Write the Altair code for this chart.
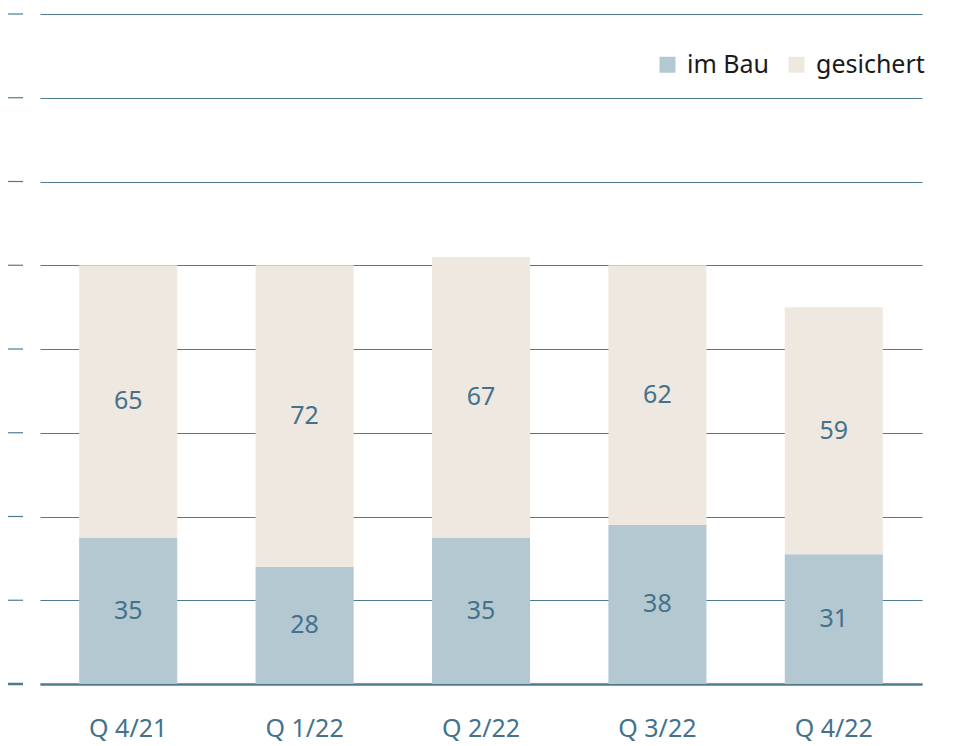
import altair as alt
import pandas as pd

quarters = ["Q 4/21", "Q 1/22", "Q 2/22", "Q 3/22", "Q 4/22"]
im_bau = [35, 28, 35, 38, 31]
gesichert = [65, 72, 67, 62, 59]
series = ["im Bau", "gesichert"]
tick_values = [0, 20, 40, 60, 80, 100, 120, 140, 160]

rows = []
for q, a, b in zip(quarters, im_bau, gesichert):
    rows.append({"quarter": q, "series": series[0], "value": a, "ord": 0})
    rows.append({"quarter": q, "series": series[1], "value": b, "ord": 1})
df = pd.DataFrame(rows)
ticks_df = pd.DataFrame({"v": tick_values, "w": [2.5 if v == 0 else 1.2 for v in tick_values]})

FONT = "Noto Sans"
BLUE_TXT = "#44728b"
GRID = "#4f7b92"

x_enc = alt.X("quarter:N", sort=quarters,
              scale=alt.Scale(paddingInner=0.444, paddingOuter=0.222),
              axis=alt.Axis(title=None, ticks=False, labelAngle=0, labelFont=FONT,
                            labelFontSize=25, labelColor=BLUE_TXT, labelPadding=32,
                            domain=True, domainColor=GRID, domainWidth=2.5))
y_scale = alt.Scale(domain=[0, 160], nice=False)

base = alt.Chart(df)

bars = base.mark_bar().encode(
    x=x_enc,
    y=alt.Y("value:Q", stack="zero", scale=y_scale,
            axis=alt.Axis(title=None, values=tick_values, grid=True, gridColor=GRID,
                          gridWidth=1.2, labels=False, ticks=False, domain=False)),
    color=alt.Color("series:N",
                    scale=alt.Scale(domain=series, range=["#b3c8d1", "#efe8e1"]),
                    legend=alt.Legend(title=None, orient="none", direction="horizontal",
                                      legendX=615, legendY=38, symbolType="square",
                                      symbolSize=256, symbolStrokeWidth=0,
                                      labelFont=FONT, labelFontSize=25,
                                      labelColor="#1a1a1a", labelOffset=7,
                                      columnPadding=14, padding=0)),
    order=alt.Order("ord:Q"),
)

labels = base.transform_stack(
    stack="value", as_=["y0", "y1"], groupby=["quarter"], sort=[alt.SortField("ord")]
).transform_calculate(
    mid="(datum.y0 + datum.y1) / 2"
).mark_text(font=FONT, fontSize=25, color=BLUE_TXT, baseline="middle").encode(
    x=alt.X("quarter:N", sort=quarters),
    y=alt.Y("mid:Q", scale=y_scale),
    text="value:Q",
)

dashes = alt.Chart(ticks_df).mark_rule(color=GRID).encode(
    y=alt.Y("v:Q", scale=y_scale),
    x=alt.value(-32),
    x2=alt.value(-17),
    strokeWidth=alt.StrokeWidth("w:Q", scale=None),
)

chart = alt.layer(dashes, bars, labels).properties(
    width=882, height=670,
    autosize=alt.AutoSizeParams(type="none"),
    padding={"left": 32, "top": 6, "right": 30, "bottom": 60},
).configure_view(stroke=None)

chart.save("out.html", embed_options={"renderer": "svg", "actions": False})
